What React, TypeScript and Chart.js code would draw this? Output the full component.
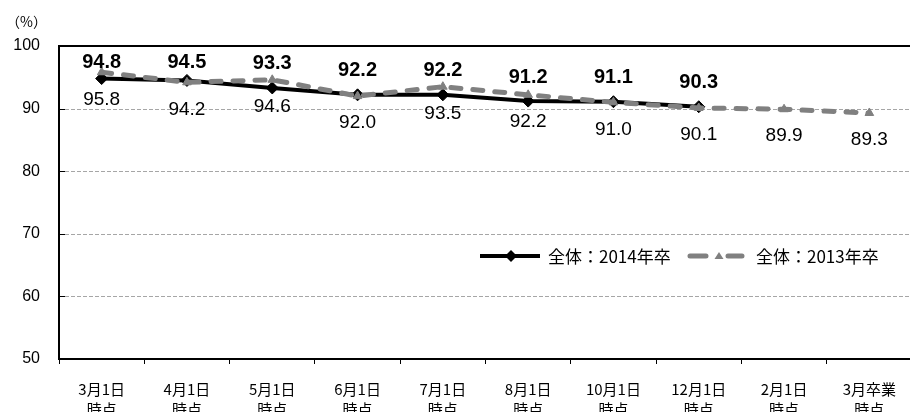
import React, { useEffect, useRef } from "react";
import { Chart, registerables } from "chart.js";

Chart.register(...registerables);

const categories: string[][] = [
  ["3月1日", "時点"],
  ["4月1日", "時点"],
  ["5月1日", "時点"],
  ["6月1日", "時点"],
  ["7月1日", "時点"],
  ["8月1日", "時点"],
  ["10月1日", "時点"],
  ["12月1日", "時点"],
  ["2月1日", "時点"],
  ["3月卒業", "時点"],
];
const series2014: (number | null)[] = [94.8, 94.5, 93.3, 92.2, 92.2, 91.2, 91.1, 90.3, null, null];
const series2013: number[] = [95.8, 94.2, 94.6, 92.0, 93.5, 92.2, 91.0, 90.1, 89.9, 89.3];
const label2014 = "全体：2014年卒";
const label2013 = "全体：2013年卒";
const yMin = 50;
const yMax = 100;
const yStep = 10;
const unitLabel = "（%）";

const JP = '"Noto Sans CJK JP", "Noto Sans", sans-serif';
const NUM = '"Liberation Sans", Arial, sans-serif';
const GRAY = "#808080";

const decorPlugin = {
  id: "decor",
  beforeDatasetsDraw(chart: any) {
    const { ctx, chartArea, scales } = chart;
    const y = scales.y;
    ctx.save();
    y.ticks.forEach((t: any) => {
      const py = Math.round(y.getPixelForValue(t.value)) + 0.5;
      if (t.value === yMin) return;
      ctx.beginPath();
      if (t.value === yMax) {
        ctx.setLineDash([]);
        ctx.strokeStyle = "#000";
        ctx.lineWidth = 2;
        ctx.moveTo(chartArea.left, py - 0.5);
        ctx.lineTo(chartArea.right, py - 0.5);
      } else {
        ctx.setLineDash([4, 2]);
        ctx.strokeStyle = "#a6a6a6";
        ctx.lineWidth = 1;
        ctx.moveTo(chartArea.left, py);
        ctx.lineTo(chartArea.right, py);
      }
      ctx.stroke();
      ctx.setLineDash([]);
      ctx.strokeStyle = "#000";
      ctx.lineWidth = 1;
      ctx.beginPath();
      ctx.moveTo(chartArea.left, py);
      ctx.lineTo(chartArea.left + 6, py);
      ctx.stroke();
    });
    ctx.restore();
  },
  afterDatasetsDraw(chart: any) {
    const { ctx, chartArea } = chart;
    ctx.save();
    const m14 = chart.getDatasetMeta(0);
    const m13 = chart.getDatasetMeta(1);
    ctx.textAlign = "center";
    ctx.textBaseline = "middle";
    ctx.fillStyle = "#000";
    ctx.font = `bold 20px ${NUM}`;
    m14.data.forEach((p: any, i: number) => {
      const v = series2014[i];
      if (v == null) return;
      const ty = Math.max(p.y - 24, chartArea.top + 16);
      ctx.fillText(v.toFixed(1), p.x, ty);
    });
    ctx.font = `19px ${NUM}`;
    m13.data.forEach((p: any, i: number) => {
      const v = series2013[i];
      ctx.fillText(v.toFixed(1), p.x, p.y + 27);
    });

    ctx.textAlign = "left";
    ctx.font = `14px ${JP}`;
    ctx.fillText(unitLabel, 6, 22);

    const ly = 256;
    ctx.strokeStyle = "#000";
    ctx.lineWidth = 4;
    ctx.setLineDash([]);
    ctx.beginPath();
    ctx.moveTo(480, ly);
    ctx.lineTo(540, ly);
    ctx.stroke();
    ctx.fillStyle = "#000";
    ctx.beginPath();
    ctx.moveTo(511, ly - 6);
    ctx.lineTo(517, ly);
    ctx.lineTo(511, ly + 6);
    ctx.lineTo(505, ly);
    ctx.closePath();
    ctx.fill();
    ctx.font = `17px ${JP}`;
    ctx.textBaseline = "middle";
    ctx.fillText(label2014, 548, ly + 1);

    ctx.strokeStyle = GRAY;
    ctx.lineWidth = 5;
    ctx.lineCap = "round";
    ctx.beginPath();
    ctx.moveTo(690, ly);
    ctx.lineTo(706, ly);
    ctx.moveTo(728, ly);
    ctx.lineTo(742, ly);
    ctx.stroke();
    ctx.fillStyle = GRAY;
    ctx.beginPath();
    ctx.moveTo(719, ly - 4);
    ctx.lineTo(723.5, ly + 3);
    ctx.lineTo(714.5, ly + 3);
    ctx.closePath();
    ctx.fill();
    ctx.fillStyle = "#000";
    ctx.fillText(label2013, 756, ly + 1);
    ctx.restore();
  },
};

export default function App() {
  const ref = useRef<HTMLCanvasElement>(null);
  useEffect(() => {
    if (!ref.current) return;
    const chart = new Chart(ref.current, {
      type: "line",
      data: {
        labels: categories,
        datasets: [
          {
            label: label2014,
            data: series2014,
            borderColor: "#000",
            backgroundColor: "#000",
            borderWidth: 4,
            pointStyle: "rectRot",
            pointRadius: 6,
            pointBackgroundColor: "#000",
            pointBorderColor: "#000",
            pointBorderWidth: 1,
            tension: 0,
            spanGaps: false,
            order: 1,
          },
          {
            label: label2013,
            data: series2013,
            borderColor: GRAY,
            backgroundColor: GRAY,
            borderWidth: 5,
            borderDash: [10, 12],
            borderCapStyle: "round",
            pointStyle: "triangle",
            pointRadius: 5,
            pointBackgroundColor: GRAY,
            pointBorderColor: GRAY,
            pointBorderWidth: 1,
            tension: 0,
            order: 0,
          },
        ],
      },
      options: {
        animation: false,
        responsive: false,
        devicePixelRatio: 1,
        layout: { padding: { top: 46, left: 0, right: 0, bottom: 0 } },
        plugins: {
          legend: { display: false },
          tooltip: { enabled: false },
        },
        scales: {
          x: {
            type: "category",
            offset: true,
            grid: {
              display: true,
              drawOnChartArea: false,
              drawTicks: true,
              tickLength: 5,
              tickColor: "#000",
              tickWidth: 1,
              offset: true,
            },
            border: { display: true, color: "#000", width: 2 },
            ticks: {
              color: "#000",
              font: { family: JP, size: 15, lineHeight: 1.33 },
              padding: 15,
              maxRotation: 0,
              autoSkip: false,
            },
            afterFit: (s: any) => {
              s.height = 53;
            },
          },
          y: {
            min: yMin,
            max: yMax,
            grid: { display: false, drawTicks: false },
            border: { display: true, color: "#000", width: 2 },
            ticks: {
              stepSize: yStep,
              color: "#000",
              font: { family: NUM, size: 16 },
              padding: 19,
            },
            afterFit: (s: any) => {
              s.width = 59;
            },
          },
        },
      },
      plugins: [decorPlugin],
    } as any);
    return () => chart.destroy();
  }, []);
  return (
    <div
      style={{
        position: "fixed",
        left: 0,
        top: 0,
        width: 910,
        height: 412,
        overflow: "hidden",
        background: "#fff",
      }}
    >
      <canvas ref={ref} width={919} height={412} style={{ display: "block" }} />
    </div>
  );
}
